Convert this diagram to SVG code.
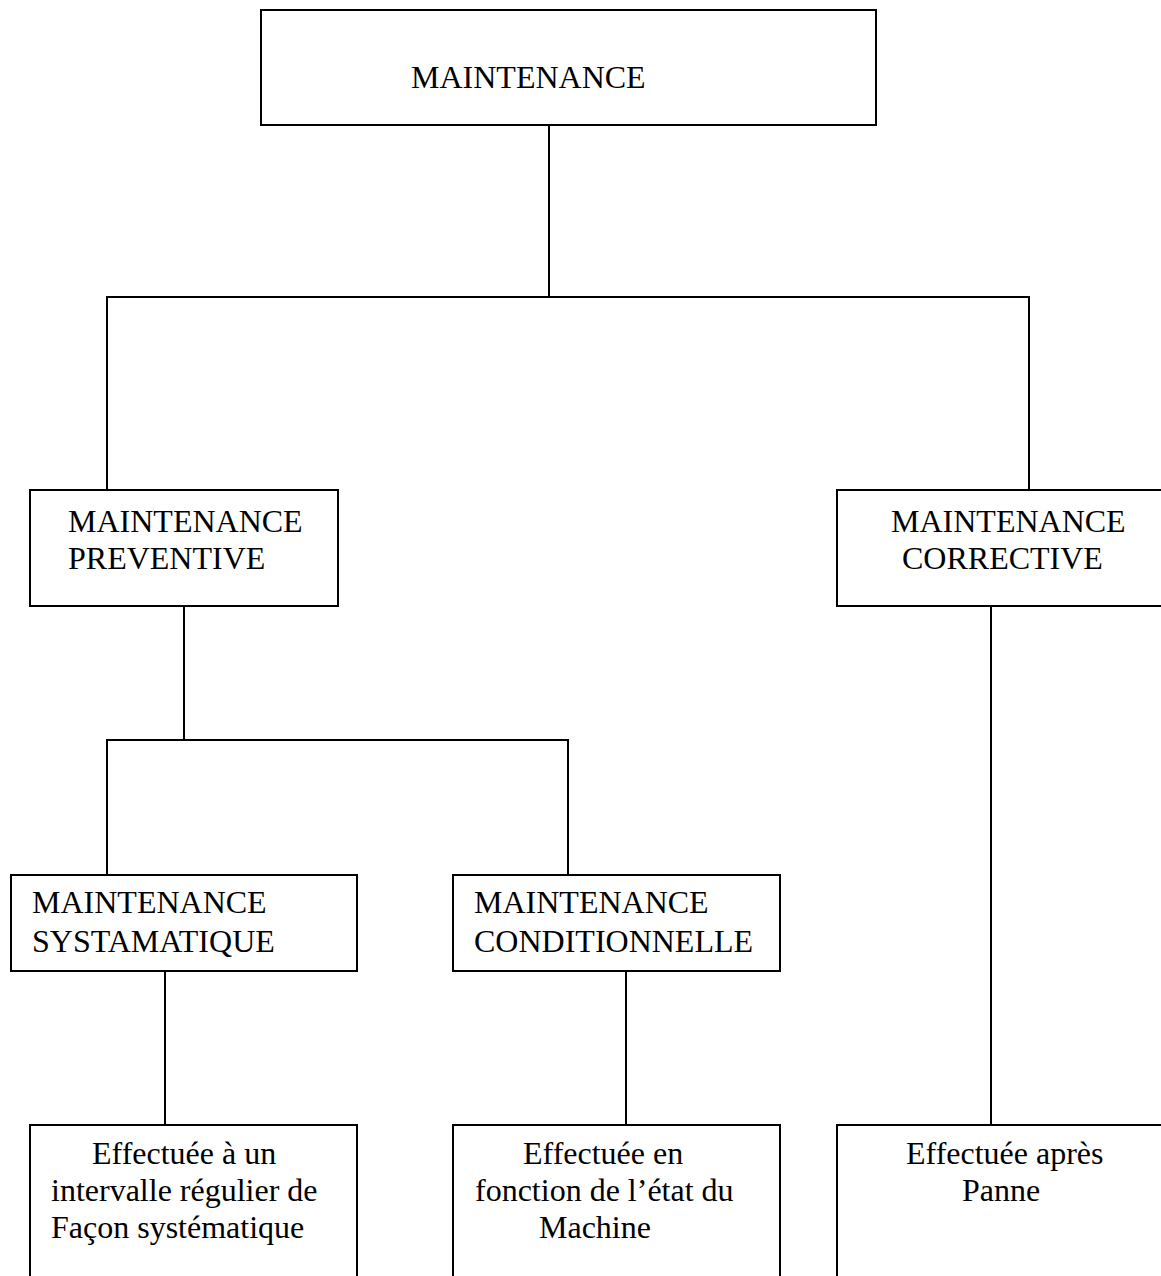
<svg xmlns="http://www.w3.org/2000/svg" width="1161" height="1276" viewBox="0 0 1161 1276">
<style>
.box{fill:#fff;stroke:#000;stroke-width:2}
.ln{stroke:#000;stroke-width:2;fill:none}
text{font-family:"Liberation Serif","Times New Roman",serif;font-size:32px;fill:#000}
</style>
<rect width="1161" height="1276" fill="#fff"/>
<g id="connectors">
<line class="ln" x1="549" y1="125" x2="549" y2="297"/>
<line class="ln" x1="106" y1="297" x2="1030" y2="297"/>
<line class="ln" x1="107" y1="297" x2="107" y2="490"/>
<line class="ln" x1="1029" y1="297" x2="1029" y2="490"/>
<line class="ln" x1="184" y1="606" x2="184" y2="740"/>
<line class="ln" x1="106" y1="740" x2="569" y2="740"/>
<line class="ln" x1="107" y1="740" x2="107" y2="875"/>
<line class="ln" x1="568" y1="740" x2="568" y2="875"/>
<line class="ln" x1="165" y1="971" x2="165" y2="1125"/>
<line class="ln" x1="626" y1="971" x2="626" y2="1125"/>
<line class="ln" x1="991" y1="606" x2="991" y2="1125"/>
</g>
<g id="n-maintenance">
<rect class="box" x="261" y="10" width="615" height="115"/>
<text x="411" y="88">MAINTENANCE</text>
</g>
<g id="n-preventive">
<rect class="box" x="30" y="490" width="308" height="116"/>
<text x="68" y="532">MAINTENANCE</text>
<text x="68" y="569">PREVENTIVE</text>
</g>
<g id="n-corrective">
<rect class="box" x="837" y="490" width="330" height="116"/>
<text x="891" y="532">MAINTENANCE</text>
<text x="902" y="569">CORRECTIVE</text>
</g>
<g id="n-systematique">
<rect class="box" x="11" y="875" width="346" height="96"/>
<text x="32" y="913">MAINTENANCE</text>
<text x="32" y="952">SYSTAMATIQUE</text>
</g>
<g id="n-conditionnelle">
<rect class="box" x="453" y="875" width="327" height="96"/>
<text x="474" y="913">MAINTENANCE</text>
<text x="474" y="952">CONDITIONNELLE</text>
</g>
<g id="n-desc-systematique">
<rect class="box" x="30" y="1125" width="327" height="170"/>
<text x="92" y="1164">Effectuée à un</text>
<text x="51" y="1201">intervalle régulier de</text>
<text x="51" y="1238">Façon systématique</text>
</g>
<g id="n-desc-conditionnelle">
<rect class="box" x="453" y="1125" width="327" height="170"/>
<text x="523" y="1164">Effectuée en</text>
<text x="475" y="1201">fonction de l’état du</text>
<text x="539" y="1238">Machine</text>
</g>
<g id="n-desc-corrective">
<rect class="box" x="837" y="1125" width="330" height="170"/>
<text x="906" y="1164">Effectuée après</text>
<text x="962" y="1201">Panne</text>
</g>
</svg>
